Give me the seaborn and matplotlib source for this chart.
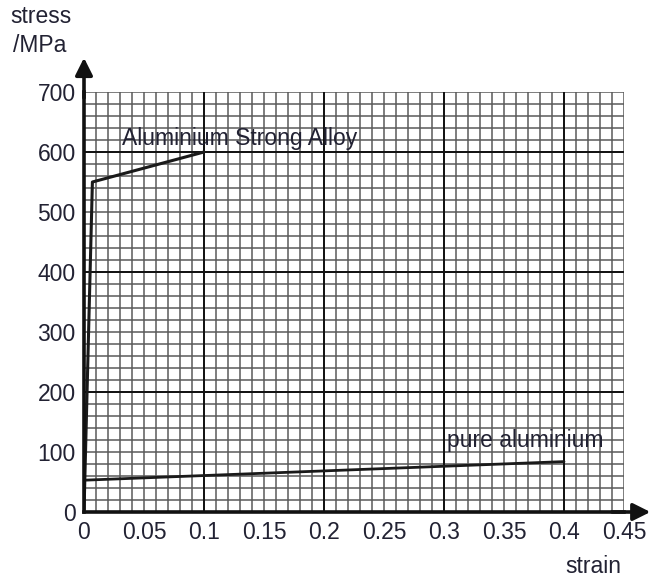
import numpy as np
import pandas as pd
import matplotlib
matplotlib.use("Agg")
import matplotlib.pyplot as plt
import seaborn as sns

# data
alloy_strain = [0.0, 0.007, 0.1]
alloy_stress = [0, 550, 600]
pure_strain = [0.0, 0.4]
pure_stress = [53, 84]

x_ticks = [0, 0.05, 0.1, 0.15, 0.2, 0.25, 0.3, 0.35, 0.4, 0.45]
x_labels = ["0", "0.05", "0.1", "0.15", "0.2", "0.25", "0.3", "0.35", "0.4", "0.45"]
y_ticks = [0, 100, 200, 300, 400, 500, 600, 700]

sns.set_style("white")
plt.rcParams['font.family'] = ['Liberation Sans', 'DejaVu Sans']

W, H = 651, 581
fig = plt.figure(figsize=(W / 100, H / 100), dpi=100)
ax = fig.add_axes([84 / W, 69 / H, 540 / W, 420 / H])

# graph paper grid
minor_x = np.arange(0.01, 0.4501, 0.01)
minor_y = np.arange(20, 700.1, 20)
ax.vlines(minor_x, 0, 700, color="#5a5a5a", lw=1.1, zorder=1)
ax.hlines(minor_y, 0, 0.45, color="#5a5a5a", lw=1.1, zorder=1)
ax.vlines([0.1, 0.2, 0.3, 0.4], 0, 700, color="#111111", lw=1.4, zorder=1.5)
ax.hlines([200, 400, 600], 0, 0.45, color="#111111", lw=1.4, zorder=1.5)

alloy = pd.DataFrame({"strain": alloy_strain, "stress": alloy_stress})
pure = pd.DataFrame({"strain": pure_strain, "stress": pure_stress})
sns.lineplot(data=alloy, x="strain", y="stress", ax=ax, color="#1a1a1a",
             lw=2.2, sort=False, zorder=3)
sns.lineplot(data=pure, x="strain", y="stress", ax=ax, color="#1a1a1a",
             lw=2.0, sort=False, zorder=3)

ax.text(0.032, 612, "Aluminium Strong Alloy", fontsize=16.5, color="#222233", zorder=4)
ax.text(0.3025, 108, "pure aluminium", fontsize=16.5, color="#222233", zorder=4)

ax.set_xlim(0, 0.45)
ax.set_ylim(0, 700)
ax.set_xticks(x_ticks)
ax.set_xticklabels(x_labels)
ax.set_yticks(y_ticks)
ax.tick_params(axis="both", direction="out", length=4.5, width=1.8,
               labelsize=16.5, colors="#1a1a1a", labelcolor="#222233")
ax.tick_params(axis="x", pad=2)
ax.tick_params(axis="y", pad=1.5)
ax.set_xlabel("")
ax.set_ylabel("")

for side in ["top", "right"]:
    ax.spines[side].set_visible(False)
for side in ["left", "bottom"]:
    ax.spines[side].set_linewidth(2.6)
    ax.spines[side].set_color("#111111")
    ax.spines[side].set_zorder(5)

# axis arrows
ax.annotate("", xy=(0.472, 0), xytext=(0.44, 0), annotation_clip=False,
            arrowprops=dict(arrowstyle="-|>", lw=2.6, color="#111111",
                            mutation_scale=26, shrinkA=0, shrinkB=0))
ax.annotate("", xy=(0, 757), xytext=(0, 690), annotation_clip=False,
            arrowprops=dict(arrowstyle="-|>", lw=2.6, color="#111111",
                            mutation_scale=26, shrinkA=0, shrinkB=0))

fig.text(10 / W, 1 - 23 / H, "stress", fontsize=16.5, color="#222233", va="baseline")
fig.text(13 / W, 1 - 52 / H, "/MPa", fontsize=16.5, color="#222233", va="baseline")
fig.text(565 / W, 1 - 573 / H, "strain", fontsize=16.5, color="#222233", va="baseline")

fig.savefig("out.png", dpi=100)
